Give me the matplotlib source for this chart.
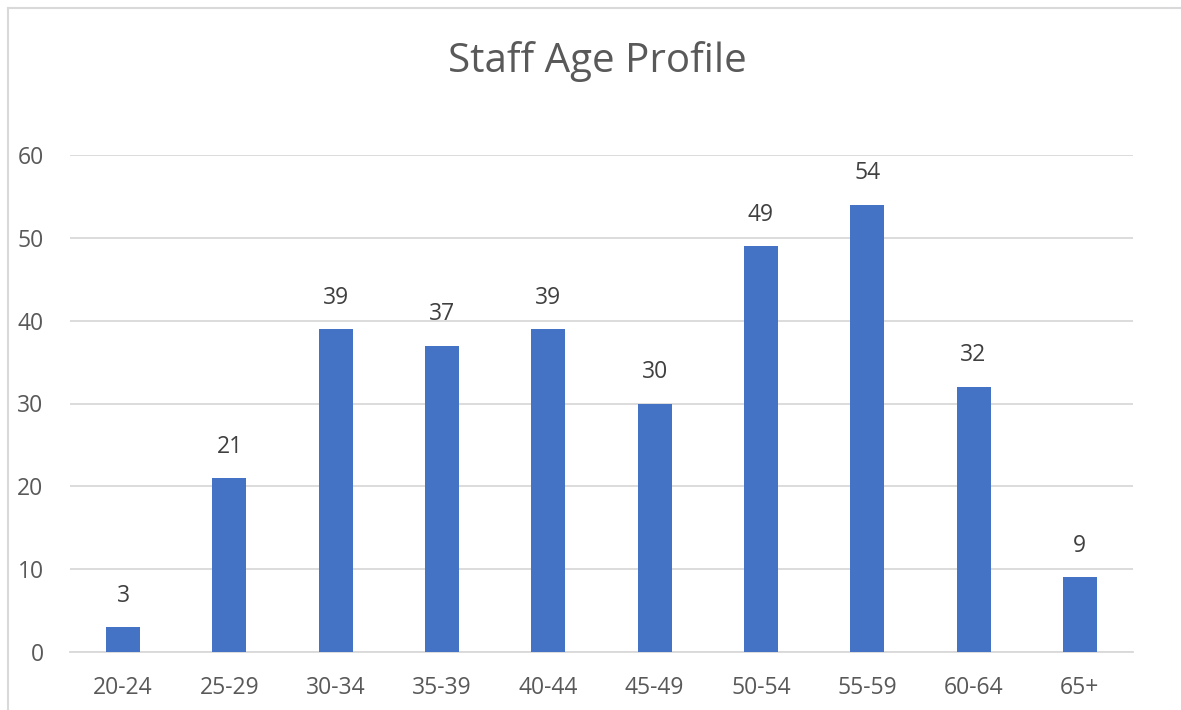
import matplotlib
matplotlib.use("Agg")
import matplotlib.pyplot as plt
from matplotlib.lines import Line2D

categories = ["20-24", "25-29", "30-34", "35-39", "40-44", "45-49", "50-54", "55-59", "60-64", "65+"]
values = [3, 21, 39, 37, 39, 30, 49, 54, 32, 9]
yticks = [0, 10, 20, 30, 40, 50, 60]
title = "Staff Age Profile"

plt.rcParams['font.family'] = ['Open Sans', 'DejaVu Sans']

W, H = 1181, 710
fig = plt.figure(figsize=(W / 100, H / 100), dpi=100)
ax = fig.add_axes([70 / W, 1 - 652 / H, (1133 - 70) / W, (652 - 155) / H])

x = range(len(categories))
ax.bar(x, values, width=0.32, color="#4472C4", zorder=3)
for xi, v in zip(x, values):
    ax.annotate(str(v), (xi, v), xytext=(0, 14), textcoords="offset points",
                ha="center", va="bottom", fontsize=16.5, color="#404040")

ax.set_xlim(-0.5, len(categories) - 0.5)
ax.set_ylim(0, 60)
ax.set_yticks(yticks)
ax.set_xticks(list(x))
ax.set_xticklabels(categories)
ax.grid(axis="y", color="#D9D9D9", linewidth=1.3, zorder=0)
ax.tick_params(axis="both", length=0, labelsize=16.5, labelcolor="#595959")
ax.tick_params(axis="y", pad=19)
ax.tick_params(axis="x", pad=17)
for s in ["top", "right", "left"]:
    ax.spines[s].set_visible(False)
ax.spines["bottom"].set_color("#D9D9D9")
ax.spines["bottom"].set_linewidth(1.3)

fig.text(597 / W, 1 - 62 / H, title, ha="center", va="center", fontsize=29, color="#595959")

fig.add_artist(Line2D([8 / W, 8 / W], [0, 1 - 8 / H], color="#D9D9D9", linewidth=1.5, transform=fig.transFigure))
fig.add_artist(Line2D([8 / W, 1], [1 - 8 / H, 1 - 8 / H], color="#D9D9D9", linewidth=1.5, transform=fig.transFigure))

fig.savefig("out.png", dpi=100)
